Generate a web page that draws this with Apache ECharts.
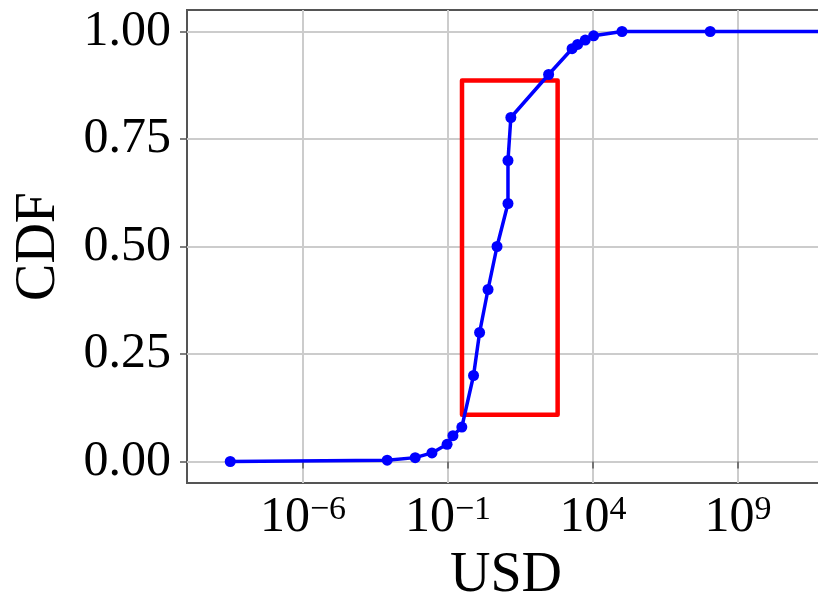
<!DOCTYPE html>
<html><head><meta charset="utf-8">
<script src="https://cdn.jsdelivr.net/npm/echarts@6/dist/echarts.min.js"></script>
<style>html,body{margin:0;padding:0;background:#fff}#c{width:818px;height:599px}</style>
</head><body><div id="c"></div>
<script>
// Data (x in USD, log scale; y = CDF)
const usdValues = [3.1e-9, 8e-4, 7.4e-3, 0.028, 0.093, 0.148, 0.30, 0.76, 1.23, 2.4, 4.9, 11.7, 11.7, 14.7, 295, 1900, 2950, 5400, 10500, 1e5, 1.1e8, 1e14];
const cdfValues = [0, 0.003, 0.009, 0.02, 0.04, 0.06, 0.08, 0.2, 0.3, 0.4, 0.5, 0.6, 0.7, 0.8, 0.9, 0.96, 0.97, 0.98, 0.99, 1.0, 1.0, 1.0];
const xTickValues = [1e-6, 1e-1, 1e4, 1e9];
const yTickValues = [0, 0.25, 0.5, 0.75, 1.0];
const xRange = [1e-10, 1e12];
const yRange = [-0.05, 1.05];
const boxUsd = [0.304, 603];
const boxCdf = [0.109, 0.886];

const FONT = 'Liberation Serif';
const chart = echarts.init(document.getElementById('c'), null, {renderer: 'canvas'});
const seriesData = usdValues.map((v, i) => [v, cdfValues[i]]);

chart.setOption({
  animation: false,
  backgroundColor: '#ffffff',
  grid: {
    left: 187, top: 10, right: -7, bottom: 116,
    show: true, borderColor: '#555555', borderWidth: 2,
    outerBoundsMode: 'none', containLabel: false
  },
  xAxis: {
    type: 'log',
    logBase: 10,
    min: xRange[0], max: xRange[1],
    name: 'USD',
    nameLocation: 'middle',
    nameGap: 60,
    nameTextStyle: {fontFamily: FONT, fontSize: 56, color: '#000'},
    axisLine: {show: false},
    axisTick: {show: true, inside: false, length: 7, customValues: xTickValues, lineStyle: {color: '#555', width: 1.5}},
    axisLabel: {
      customValues: xTickValues,
      margin: 10,
      formatter: function (v) {
        const e = Math.round(Math.log10(v));
        return '{b|10}{s|' + (e < 0 ? '\u2212' : '') + Math.abs(e) + '}';
      },
      rich: {
        b: {fontFamily: FONT, fontSize: 50, color: '#000', lineHeight: 50},
        s: {fontFamily: FONT, fontSize: 34, color: '#000', lineHeight: 30, verticalAlign: 'top'}
      }
    },
    splitLine: {show: true, lineStyle: {color: '#cccccc', width: 2}},
    minorTick: {show: false},
    minorSplitLine: {show: false}
  },
  yAxis: {
    type: 'value',
    min: yRange[0], max: yRange[1],
    name: 'CDF',
    nameLocation: 'middle',
    nameGap: 120,
    nameRotate: 90,
    nameTextStyle: {fontFamily: FONT, fontSize: 56, color: '#000'},
    axisLine: {show: false},
    axisTick: {show: true, inside: false, length: 7, customValues: yTickValues, lineStyle: {color: '#555', width: 1.5}},
    axisLabel: {
      customValues: yTickValues,
      margin: 16,
      fontFamily: FONT, fontSize: 50, color: '#000',
      formatter: v => v.toFixed(2)
    },
    splitLine: {show: true, lineStyle: {color: '#cccccc', width: 2}}
  },
  series: [{
    type: 'line',
    data: seriesData,
    symbol: 'circle',
    symbolSize: 11,
    showSymbol: true,
    showAllSymbol: true,
    clip: true,
    z: 3,
    lineStyle: {color: '#0000ff', width: 3.5},
    itemStyle: {color: '#0000ff'},
    markArea: {
      silent: true,
      z: 2,
      label: {show: false},
      itemStyle: {color: 'rgba(0,0,0,0)', borderColor: '#ff0000', borderWidth: 4.5, borderJoin: 'round'},
      data: [[{coord: [boxUsd[0], boxCdf[1]]}, {coord: [boxUsd[1], boxCdf[0]]}]]
    }
  }]
});
</script>
</body></html>
